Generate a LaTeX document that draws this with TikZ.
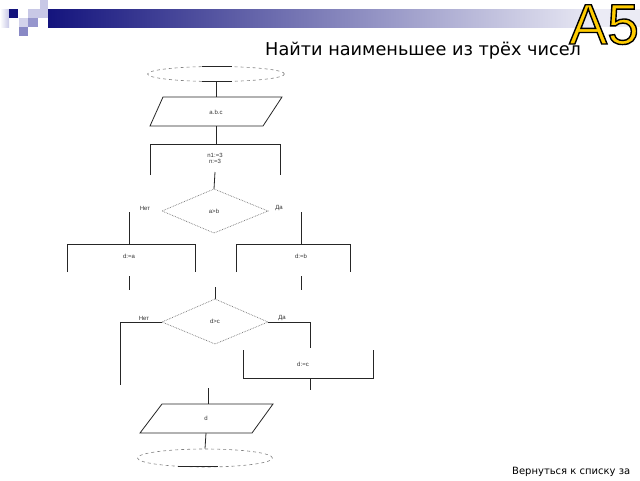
\documentclass[tikz,border=0pt]{standalone}
\usepackage{fontspec}
\setmainfont{DejaVu Sans}
\newfontfamily\lsans{Liberation Sans}
\usetikzlibrary{shapes.geometric}
\definecolor{navy}{RGB}{20,20,125}
\definecolor{lav}{RGB}{200,200,230}
\definecolor{midlav}{RGB}{150,150,205}
\definecolor{barend}{RGB}{235,235,245}
\definecolor{gold}{RGB}{255,204,0}
\newcommand{\outlinedtext}[1]{{\color{gold}\special{pdf:literal 0 0 0 RG 2 Tr 1.4 w}#1\special{pdf:literal 0 Tr}}}
\tikzset{
  flow/.style={black!85, line width=0.8pt},
  dashell/.style={ellipse, draw=gray, dashed, line width=0.6pt, inner sep=0},
  dotdia/.style={draw=gray!90!black, densely dotted, line width=0.7pt},
  lbl/.style={font=\lsans\fontsize{6}{7}\selectfont, inner sep=0, text=black!80},
}
\begin{document}
\begin{tikzpicture}[x=1pt,y=-1pt]
\useasboundingbox (0,0) rectangle (640,480);
% header bar
\shade[left color=white, right color=lav] (0,9) rectangle (9,27);
\shade[left color=navy, right color=barend] (48,9) rectangle (600,27);
\fill[barend] (600,9) rectangle (640,27);
\fill[lav] (40,0) rectangle (48,9);
\fill[navy] (9,9) rectangle (18,18);
\fill[lav] (28,9) rectangle (38,18);
\fill[lav!80!white] (19,18) rectangle (28,27);
\fill[midlav] (28,18) rectangle (38,27);
\fill[midlav!90!navy] (19,27) rectangle (28,36);
\fill[lav] (38,9) rectangle (48,18);
\node[anchor=base west, inner sep=0, font=\lsans\fontsize{57}{60}\selectfont] (a5) at (569,44) {\outlinedtext{A5}};
\node[anchor=base west, inner sep=0, font=\fontsize{17.7}{20}\selectfont] (title) at (265,55) {Найти наименьшее из трёх чисел};
% start
\node[dashell, minimum width=137, minimum height=15] (start) at (216,74) {};
\draw[flow] (202,66.5) -- (232,66.5);
\draw[flow] (202,81.5) -- (232,81.5);
% input
\draw[flow] (163,97) -- (282,97) -- (263,126) -- (150,126) -- cycle;
\node[lbl] (inp) at (216,112) {a.b.c};
\coordinate (p1t) at (216,97);
\coordinate (p1b) at (216,126);
\draw[flow] (start.south) -- (p1t);
% box 1
\draw[flow] (150,175) -- (150,144) -- (280,144) -- (280,175);
\coordinate (b1t) at (216,144);
\draw[flow] (p1b) -- (b1t);
\node[lbl, align=center] (init) at (215,158) {n1:=3\\[-1pt]n:=3};
\coordinate (b1b) at (215,172);
\coordinate (d1t) at (214,189);
\draw[flow] (b1b) -- (d1t);
% diamond 1
\coordinate (d1l) at (162,211);
\coordinate (d1r) at (268,211);
\coordinate (d1b) at (214,233);
\draw[dotdia] (d1t) -- (d1r) -- (d1b) -- (d1l) -- cycle;
\node[lbl] (c1) at (214,211) {a>b};
\node[lbl] (no1) at (145,208) {Нет};
\node[lbl] (yes1) at (279,208) {Да};
\coordinate (l1t) at (129,212);
\coordinate (r1t) at (301,212);
\coordinate (l1b) at (129,244);
\coordinate (r1b) at (301,244);
\draw[flow] (l1t) -- (l1b);
\draw[flow] (r1t) -- (r1b);
% boxes
\draw[flow] (67,272) -- (67,244) -- (195,244) -- (195,272);
\draw[flow] (236,272) -- (236,244) -- (350,244) -- (350,272);
\node[lbl] (da) at (129,256) {d:=a};
\node[lbl] (db) at (301,256) {d:=b};
\coordinate (l2t) at (129,276);
\coordinate (l2b) at (129,290);
\coordinate (r2t) at (301,276);
\coordinate (r2b) at (301,290);
\draw[flow] (l2t) -- (l2b);
\draw[flow] (r2t) -- (r2b);
% diamond 2
\coordinate (d2a) at (215,287);
\coordinate (d2t) at (215,299);
\coordinate (d2l) at (162,322);
\coordinate (d2r) at (268,322);
\coordinate (d2b) at (215,344);
\draw[flow] (d2a) -- (d2t);
\draw[dotdia] (d2t) -- (d2r) -- (d2b) -- (d2l) -- cycle;
\node[lbl] (c2) at (215,321) {d>c};
\node[lbl] (no2) at (144,318) {Нет};
\node[lbl] (yes2) at (282,318) {Да};
\coordinate (nl) at (120,385);
\coordinate (yr) at (310,348);
\draw[flow] (d2l) -- (120,322) -- (nl);
\draw[flow] (d2r) -- (310,322) -- (yr);
% box 3
\draw[flow] (243,350) -- (243,378) -- (373,378) -- (373,350);
\node[lbl] (dc) at (303,364) {d:=c};
\coordinate (b3b) at (310,378);
\coordinate (b3e) at (310,390);
\draw[flow] (b3b) -- (b3e);
% output
\coordinate (o1) at (208,388);
\coordinate (p2t) at (208,404);
\draw[flow] (o1) -- (p2t);
\draw[flow] (162,404) -- (273,404) -- (252,433) -- (140,433) -- cycle;
\node[lbl] (outp) at (206,418) {d};
\coordinate (p2b) at (206,433);
% end
\node[dashell, minimum width=135, minimum height=18] (stop) at (205,458) {};
\draw[flow] (p2b) -- (stop.north);
\draw[flow] (178,466.5) -- (218,466.5);
% footer
\node[anchor=base west, inner sep=0, font=\fontsize{10}{12}\selectfont] (back) at (512,474) {Вернуться к списку за};
\end{tikzpicture}
\end{document}
